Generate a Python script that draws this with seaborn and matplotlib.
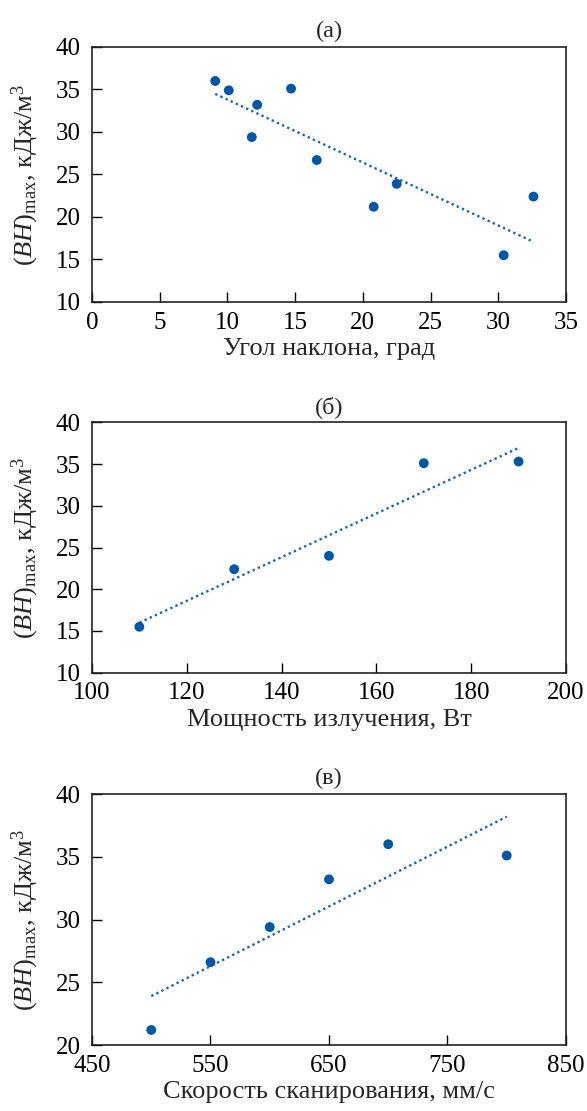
import matplotlib
matplotlib.use("Agg")
import matplotlib.pyplot as plt
import seaborn as sns
import pandas as pd

# Panel (a)
angle = [9.1, 10.1, 14.7, 12.2, 11.8, 16.6, 22.5, 20.8, 30.4, 32.6]
bh_a = [36.0, 34.9, 35.1, 33.2, 29.4, 26.7, 23.9, 21.2, 15.5, 22.4]
# Panel (b)
power = [110, 130, 150, 170, 190]
bh_b = [15.5, 22.4, 24.0, 35.1, 35.3]
# Panel (c)
speed = [500, 550, 600, 650, 700, 800]
bh_c = [21.2, 26.6, 29.4, 33.2, 36.0, 35.1]

titles = ["(а)", "(б)", "(в)"]
xlabels = ["Угол наклона, град", "Мощность излучения, Вт", "Скорость сканирования, мм/с"]
ylabel = r"$(\mathit{BH})_{\mathrm{max}}$, кДж/м$^3$"

sns.set_style("white")
plt.rcParams["font.family"] = ["Liberation Serif", "DejaVu Serif"]
plt.rcParams["mathtext.fontset"] = "custom"
plt.rcParams["mathtext.rm"] = "Liberation Serif"
plt.rcParams["mathtext.it"] = "Liberation Serif:italic"
plt.rcParams["mathtext.bf"] = "Liberation Serif:bold"

blue = "#0055A4"

fig = plt.figure(figsize=(5.87, 11.11), dpi=100)
rects = [
    [0.1567, 0.7282, 0.8075, 0.2295],
    [0.1567, 0.3945, 0.8075, 0.2254],
    [0.1567, 0.0594, 0.8075, 0.2259],
]
data = [
    (angle, bh_a, (0, 35), [0, 5, 10, 15, 20, 25, 30, 35], (10, 40), [10, 15, 20, 25, 30, 35, 40]),
    (power, bh_b, (100, 200), [100, 120, 140, 160, 180, 200], (10, 40), [10, 15, 20, 25, 30, 35, 40]),
    (speed, bh_c, (450, 850), [450, 550, 650, 750, 850], (20, 40), [20, 25, 30, 35, 40]),
]

for i, (rect, (xs, ys, xl, xt, yl, yt)) in enumerate(zip(rects, data)):
    ax = fig.add_axes(rect)
    df = pd.DataFrame({"x": xs, "y": ys})
    sns.regplot(data=df, x="x", y="y", ax=ax, ci=None, color=blue,
                scatter_kws={"s": 50, "color": blue, "alpha": 1.0,
                             "edgecolor": "none", "zorder": 3},
                line_kws={"linestyle": (0, (1, 1.4)), "linewidth": 1.7, "color": "#1A64B0"})
    ax.set_xlim(*xl)
    ax.set_ylim(*yl)
    ax.set_xticks(xt)
    ax.set_yticks(yt)
    ax.tick_params(direction="in", length=7, width=1.0, labelsize=18, pad=7,
                   colors="black", top=False, right=False, bottom=True, left=True)
    ax.tick_params(axis="y", pad=8)
    for s in ax.spines.values():
        s.set_linewidth(1.2)
        s.set_color("#222222")
    ax.set_xlabel(xlabels[i], fontsize=19, labelpad=3)
    ax.set_ylabel(ylabel, fontsize=19, labelpad=11)
    ax.set_title(titles[i], fontsize=17.5, pad=7)

fig.savefig("out.png", dpi=100)
